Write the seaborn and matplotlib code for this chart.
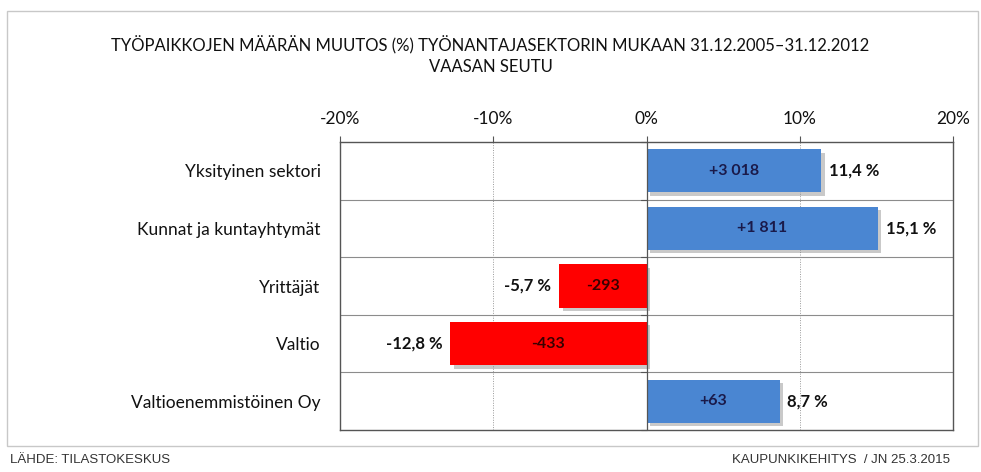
import matplotlib
matplotlib.use("Agg")
import matplotlib.pyplot as plt
import matplotlib.patheffects as pe
from matplotlib.patches import Rectangle
import seaborn as sns

# data
categories = ["Yksityinen sektori", "Kunnat ja kuntayhtymät", "Yrittäjät",
              "Valtio", "Valtioenemmistöinen Oy"]
change_pct = [11.4, 15.1, -5.7, -12.8, 8.7]
change_count = ["+3 018", "+1 811", "-293", "-433", "+63"]
x_ticks = [-20, -10, 0, 10, 20]

title = ("TYÖPAIKKOJEN MÄÄRÄN MUUTOS (%) TYÖNANTAJASEKTORIN MUKAAN 31.12.2005–31.12.2012\n"
         "VAASAN SEUTU")
source = "LÄHDE: TILASTOKESKUS"
credit = "KAUPUNKIKEHITYS  / JN 25.3.2015"

BLUE = "#4A86D2"
RED = "#FF0000"

sns.set_theme(style="white")
plt.rcParams["font.family"] = ["Lato", "DejaVu Sans"]

fig = plt.figure(figsize=(9.81, 4.72), dpi=100)
ax = fig.add_axes([340 / 981, 1 - 430 / 472, 613 / 981, 288 / 472])

colors = {c: (BLUE if v >= 0 else RED) for c, v in zip(categories, change_pct)}
sns.barplot(x=change_pct, y=categories, hue=categories, palette=colors,
            legend=False, width=0.75, orient="h", saturation=1, linewidth=0,
            ax=ax, zorder=3)

# drop shadow on bars
for p in ax.patches:
    p.set_linewidth(0)
    p.set_path_effects([pe.SimplePatchShadow(offset=(2.5, -2.5), shadow_rgbFace="#888888", alpha=0.45),
                        pe.Normal()])

ax.set_xlim(-20, 20)
ax.set_ylim(4.5, -0.5)
ax.set_xticks(x_ticks)
ax.set_xticklabels([f"{t}%" for t in x_ticks])
ax.xaxis.tick_top()
ax.tick_params(axis="x", top=True, bottom=False, direction="out", length=4,
               width=0.8, color="#555555", pad=7, labelsize=12.5, labelcolor="#111111")
ax.tick_params(axis="y", left=False, pad=8, labelsize=12.5, labelcolor="#111111")
ax.set_xlabel("")
ax.set_ylabel("")

# grid
for x in [-10, 10]:
    ax.axvline(x, color="#999999", lw=0.7, ls=(0, (1, 1.5)), zorder=1)
for y in [0.5, 1.5, 2.5, 3.5]:
    ax.axhline(y, color="#8c8c8c", lw=0.8, zorder=1)
ax.axvline(0, color="#555555", lw=0.9, zorder=4)
for y in [-0.5, 0.5, 1.5, 2.5, 3.5, 4.5]:
    ax.plot([-0.35, 0], [y, y], color="#555555", lw=0.8, zorder=4, clip_on=False)

for s in ax.spines.values():
    s.set_color("#555555")
    s.set_linewidth(1.0)

# labels
for i, (v, n) in enumerate(zip(change_pct, change_count)):
    ax.text(v / 2, i, n, ha="center", va="center", fontsize=11.5, fontweight="bold",
            color="#1a1a4a" if v >= 0 else "#3a0000", zorder=5)
    lab = f"{v:.1f} %".replace(".", ",")
    off = 0.5 if v >= 0 else -0.5
    ax.text(v + off, i, lab, ha="left" if v >= 0 else "right", va="center",
            fontsize=12, fontweight="bold", color="#111111", zorder=5)

fig.text(0.5, 1 - 55 / 472, title, ha="center", va="center", fontsize=12,
         color="#111111", linespacing=1.35)

narrow = ["Liberation Sans Narrow", "Liberation Sans", "DejaVu Sans"]
fig.text(10 / 981, 1 - 460 / 472, source, ha="left", va="center", fontsize=9.5,
         family=narrow, color="#333333")
fig.text(950 / 981, 1 - 460 / 472, credit, ha="right", va="center", fontsize=9.5,
         family=narrow, color="#333333")

# outer chart frame
fig.patches.append(Rectangle((7 / 981, 1 - 446 / 472), 971 / 981, 435 / 472,
                             transform=fig.transFigure, fill=False,
                             edgecolor="#c8c8c8", lw=1.0))

fig.savefig("out.png", dpi=100)
